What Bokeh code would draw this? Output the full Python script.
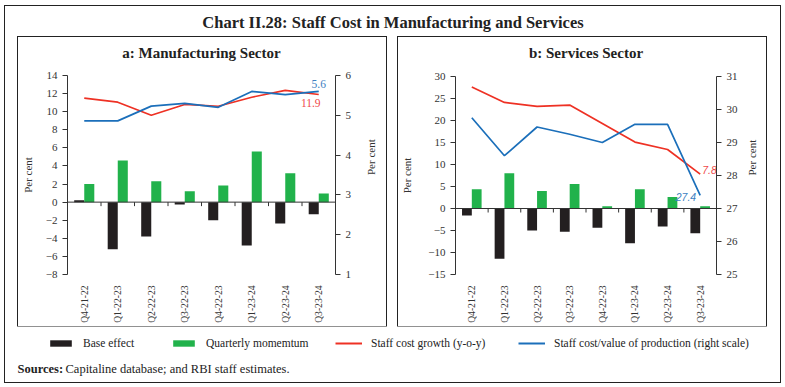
import numpy as np
from bokeh.plotting import figure
from bokeh.layouts import column, row
from bokeh.models import (Range1d, FactorRange, LinearAxis, Span, Legend, LegendItem,
                          Label, Spacer, ColumnDataSource, FixedTicker)
from bokeh.transform import dodge
from bokeh.core.properties import value
from bokeh.embed import file_html
from bokeh.resources import INLINE

# ---------------- data ----------------
quarters = ["Q4-21-22", "Q1-22-23", "Q2-22-23", "Q3-22-23",
            "Q4-22-23", "Q1-23-24", "Q2-23-24", "Q3-23-24"]

mfg_base = [0.2, -5.2, -3.8, -0.25, -2.0, -4.8, -2.35, -1.35]
mfg_momentum = [2.0, 4.6, 2.3, 1.2, 1.85, 5.6, 3.2, 0.95]
mfg_growth = [11.5, 11.05, 9.6, 10.8, 10.6, 11.6, 12.35, 11.9]
mfg_share = [4.86, 4.86, 5.23, 5.30, 5.2, 5.6, 5.52, 5.6]
mfg_left_ticks = [-8, -6, -4, -2, 0, 2, 4, 6, 8, 10, 12, 14]
mfg_right_ticks = [1, 2, 3, 4, 5, 6]

srv_base = [-1.6, -11.4, -5.0, -5.3, -4.35, -7.9, -4.1, -5.6]
srv_momentum = [4.35, 8.0, 4.0, 5.55, 0.5, 4.35, 2.6, 0.5]
srv_growth = [27.6, 24.1, 23.2, 23.5, 19.3, 15.1, 13.4, 7.8]
srv_share = [29.75, 28.6, 29.47, 29.25, 29.0, 29.55, 29.55, 27.4]
srv_left_ticks = [-15, -10, -5, 0, 5, 10, 15, 20, 25, 30]
srv_right_ticks = [25, 26, 27, 28, 29, 30, 31]

series_names = ["Base effect", "Quarterly momemtum", "Staff cost growth (y-o-y)",
                "Staff cost/value of production (right scale)"]

# ---------------- style ----------------
BLACK = "#231f20"
GREEN = "#21b24b"
RED = "#ee3124"
BLUE = "#1b6fba"
AX = "#333333"
TXT = "#222222"
SERIF = "Liberation Serif"
SANS = "Liberation Sans"
RING = {"box-shadow": "0 0 0 1px #222222"}
PW = 368          # panel width
PT = 30           # panel title strip height
PH = 259          # panel plot height
W = 775           # inner frame width


def blank(w, h):
    f = figure(width=w, height=h, x_range=Range1d(0, w), y_range=Range1d(0, h),
               output_backend="svg", toolbar_location=None, min_border=0,
               x_axis_location=None, y_axis_location=None)
    f.xgrid.grid_line_color = None
    f.ygrid.grid_line_color = None
    f.outline_line_color = None
    return f


def style_axis(ax, size="11px"):
    ax.axis_line_color = AX
    ax.major_tick_line_color = AX
    ax.major_tick_out = 5
    ax.major_tick_in = 0
    ax.minor_tick_line_color = None
    ax.major_label_text_font = SERIF
    ax.major_label_text_font_size = size
    ax.major_label_text_color = AX
    ax.axis_label_text_font = SERIF
    ax.axis_label_text_font_size = "11px"
    ax.axis_label_text_font_style = "normal"
    ax.axis_label_text_color = AX


def panel(title, base, mom, growth, share, yl, yr, lt, rt, borders, lstand, rstand):
    bl, br, bt, bb = borders
    src = ColumnDataSource(dict(q=quarters, base=base, mom=mom, growth=growth, share=share))
    p = figure(width=PW, height=PH, x_range=FactorRange(*quarters, range_padding=0),
               y_range=Range1d(yl[0], yl[1]), output_backend="svg", toolbar_location=None,
               min_border_left=bl, min_border_right=br, min_border_top=bt, min_border_bottom=bb)
    p.extra_y_ranges = {"r": Range1d(yr[0], yr[1])}
    p.outline_line_color = None
    p.xgrid.grid_line_color = None
    p.ygrid.grid_line_color = None

    p.yaxis.ticker = FixedTicker(ticks=lt)
    p.yaxis.axis_label = "Per cent"
    p.yaxis.axis_label_standoff = lstand
    style_axis(p.yaxis[0])

    ra = LinearAxis(y_range_name="r", ticker=FixedTicker(ticks=rt), axis_label="Per cent",
                    axis_label_standoff=rstand)
    ra.axis_label_orientation = np.pi / 2
    style_axis(ra)
    p.add_layout(ra, "right")

    xa = p.xaxis[0]
    style_axis(xa, "9.6px")
    xa.axis_line_color = None
    xa.major_tick_line_color = None
    xa.major_label_orientation = np.pi / 2
    xa.major_label_standoff = 6

    p.vbar(x=dodge("q", -0.15, range=p.x_range), top="base", width=0.3, source=src,
           fill_color=BLACK, line_color=None)
    p.vbar(x=dodge("q", 0.15, range=p.x_range), top="mom", width=0.3, source=src,
           fill_color=GREEN, line_color=None)

    p.add_layout(Span(location=0, dimension="width", line_color=AX, line_width=1))
    frame_h = PH - bt - bb
    tick_len = (yl[1] - yl[0]) * 4.0 / frame_h
    tsrc = ColumnDataSource(dict(q=quarters[:-1]))
    p.segment(x0=dodge("q", 0.5, range=p.x_range), y0=0,
              x1=dodge("q", 0.5, range=p.x_range), y1=-tick_len,
              source=tsrc, line_color=AX, line_width=1)

    p.line(x="q", y="growth", source=src, line_color=RED, line_width=1.7)
    p.line(x="q", y="share", source=src, line_color=BLUE, line_width=1.7, y_range_name="r")

    tf = blank(PW, PT)
    tf.add_layout(Label(x=PW / 2, y=15, text=title, text_font=SERIF, text_font_size="15px",
                        text_font_style="bold", text_color=TXT, text_align="center",
                        text_baseline="middle"))
    return p, column(tf, p, styles=RING)


pA, boxA = panel("a: Manufacturing Sector", mfg_base, mfg_momentum, mfg_growth, mfg_share,
                 (-8, 14), (1, 6), mfg_left_ticks, mfg_right_ticks, (45, 47, 8, 52), 9, 17)
pA.text(x=[quarters[-1]], y=[mfg_share[-1]], text=[f"{mfg_share[-1]}"], y_range_name="r",
        text_font=value(SERIF), text_font_size="11.5px", text_color="#3d7fc1",
        text_align="center", text_baseline="bottom", y_offset=-3)
pA.text(x=[quarters[-1]], y=[mfg_growth[-1]], text=[f"{mfg_growth[-1]}"],
        text_font=value(SERIF), text_font_size="11.5px", text_color="#ef4a4a",
        text_align="center", text_baseline="top", x_offset=-8, y_offset=5)

pB, boxB = panel("b: Services Sector", srv_base, srv_momentum, srv_growth, srv_share,
                 (-15, 30), (25, 31), srv_left_ticks, srv_right_ticks, (50, 49, 9, 52), 12, 11)
pB.text(x=[quarters[-1]], y=[srv_growth[-1]], text=[f"{srv_growth[-1]}"],
        text_font=value(SANS), text_font_size="10.5px", text_font_style="italic",
        text_color="#ef4a4a", text_align="left", text_baseline="middle", x_offset=2, y_offset=-4)
pB.text(x=[quarters[-1]], y=[srv_share[-1]], text=[f"{srv_share[-1]}"], y_range_name="r",
        text_font=value(SANS), text_font_size="10.5px", text_font_style="italic",
        text_color="#3d7fc1", text_align="right", text_baseline="middle", x_offset=-4, y_offset=1.5)

# chart title
tfig = blank(W, 31)
tfig.add_layout(Label(x=W / 2, y=15, text="Chart II.28: Staff Cost in Manufacturing and Services",
                      text_font=SERIF, text_font_size="16.5px", text_font_style="bold",
                      text_color=TXT, text_align="center", text_baseline="middle"))

# legend strip
lg = blank(W, 28)
nan = float("nan")
r1 = lg.vbar(x=[nan], top=[nan], width=1, fill_color=BLACK, line_color=None)
r2 = lg.vbar(x=[nan], top=[nan], width=1, fill_color=GREEN, line_color=None)
r3 = lg.line(x=[nan], y=[nan], line_color=RED, line_width=2)
r4 = lg.line(x=[nan], y=[nan], line_color=BLUE, line_width=2)
for name, rend, xpos in zip(series_names, [r1, r2, r3, r4], [42, 165, 330, 513]):
    lg.add_layout(Legend(items=[LegendItem(label=name, renderers=[rend])],
                         orientation="horizontal", location=(xpos, 5),
                         glyph_width=27, glyph_height=8, label_standoff=9, padding=0, margin=0,
                         label_text_font=SERIF, label_text_font_size="11.5px",
                         label_text_color=TXT, background_fill_alpha=0, border_line_alpha=0))

# sources strip
sf = blank(W, 28)
sf.add_layout(Label(x=12, y=14, text="Sources:", text_font=SERIF, text_font_size="12.5px",
                    text_font_style="bold", text_color=TXT, text_baseline="middle"))
sf.add_layout(Label(x=60, y=14, text="Capitaline database; and RBI staff estimates.",
                    text_font=SERIF, text_font_size="12.5px", text_color=TXT,
                    text_baseline="middle"))

inner = column(tfig,
               row(Spacer(width=13, height=PT + PH), boxA, Spacer(width=12, height=PT + PH), boxB,
                   Spacer(width=14, height=PT + PH)),
               lg, sf, styles=RING)

page = column(Spacer(width=780, height=6), row(Spacer(width=5, height=376), inner))

open("out.html", "w").write(file_html(page, INLINE))
